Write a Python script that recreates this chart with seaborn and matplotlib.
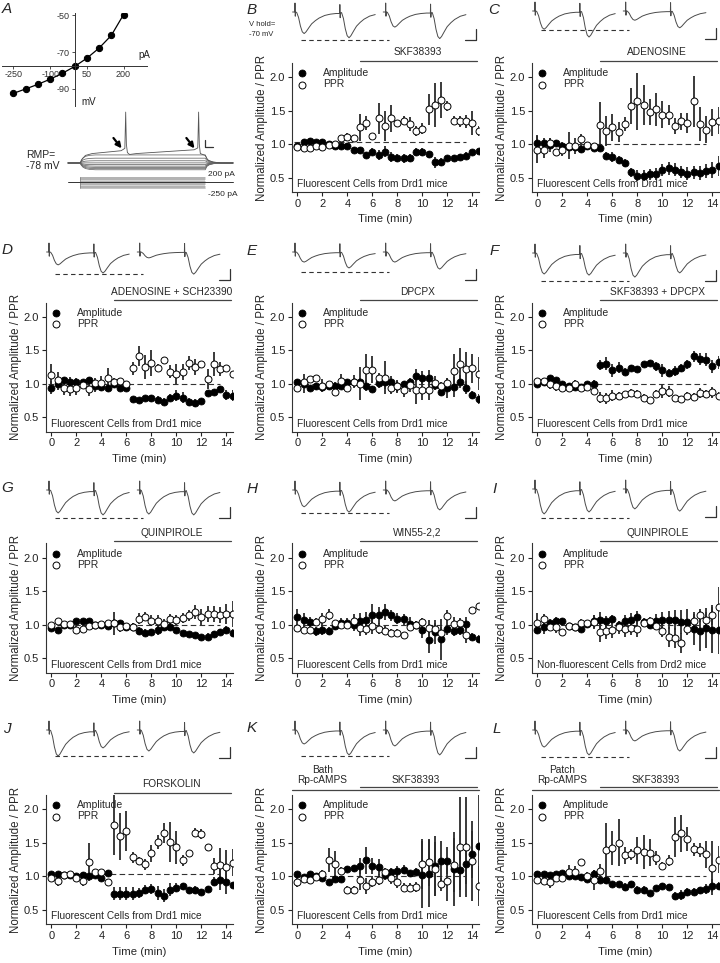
import matplotlib
matplotlib.use("Agg")
import matplotlib.pyplot as plt
import seaborn as sns
from matplotlib.transforms import blended_transform_factory

sns.set_style("ticks")
plt.rcParams['font.family'] = ['Liberation Sans', 'DejaVu Sans']
plt.rcParams['axes.unicode_minus'] = False

# ---------------- data ----------------
time_min = [0, 0.5, 1, 1.5, 2, 2.5, 3, 3.5, 4, 4.5, 5, 5.5, 6, 6.5, 7,
            7.5, 8, 8.5, 9, 9.5, 10, 10.5, 11, 11.5, 12, 12.5, 13, 13.5, 14, 14.5]

# panel A: I-V relation
iv_current = [-250, -200, -150, -100, -50, 0, 50, 100, 150, 200]
iv_voltage = [-92.4, -90.0, -87.5, -84.7, -81.5, -77.8, -73.3, -67.8, -60.9, -49.6]

b_amp = [0.97, 1.04, 1.05, 1.03, 1.04, 1.00, 0.97, 0.97, 0.98, 0.92, 0.91, 0.84, 0.89, 0.84, 0.89,
         0.81, 0.79, 0.79, 0.80, 0.89, 0.88, 0.85, 0.73, 0.74, 0.79, 0.80, 0.81, 0.83, 0.88, 0.90]
b_amp_err = [0.03, 0.04, 0.04, 0.03, 0.04, 0.03, 0.03, 0.03, 0.04, 0.04, 0.05, 0.04, 0.05, 0.07, 0.08,
             0.07, 0.06, 0.07, 0.06, 0.06, 0.06, 0.05, 0.08, 0.06, 0.04, 0.04, 0.04, 0.05, 0.04, 0.03]
b_ppr = [0.96, 0.94, 0.95, 0.98, 0.96, 0.99, 1.01, 1.09, 1.11, 1.09, 1.25, 1.32, 1.12, 1.39, 1.27,
         1.39, 1.31, 1.35, 1.30, 1.20, 1.23, 1.52, 1.58, 1.66, 1.57, 1.35, 1.34, 1.34, 1.32, 1.20]
b_ppr_err = [0.03, 0.03, 0.05, 0.04, 0.06, 0.03, 0.03, 0.05, 0.06, 0.05, 0.20, 0.10, 0.03, 0.23, 0.22,
             0.20, 0.05, 0.07, 0.10, 0.07, 0.08, 0.23, 0.33, 0.27, 0.08, 0.07, 0.08, 0.10, 0.18, 0.07]

c_amp = [1.02, 1.02, 0.99, 1.02, 0.98, 0.96, 0.96, 0.93, 0.97, 0.95, 0.95, 0.83, 0.81, 0.77, 0.72,
         0.58, 0.53, 0.53, 0.55, 0.55, 0.61, 0.64, 0.62, 0.59, 0.56, 0.58, 0.57, 0.60, 0.62, 0.67]
c_amp_err = [0.12, 0.08, 0.10, 0.05, 0.06, 0.05, 0.05, 0.06, 0.06, 0.05, 0.05, 0.05, 0.07, 0.06, 0.06,
             0.07, 0.08, 0.08, 0.08, 0.09, 0.09, 0.10, 0.10, 0.09, 0.10, 0.10, 0.10, 0.10, 0.12, 0.15]
c_ppr = [0.92, 0.92, 1.02, 0.88, 0.92, 0.98, 0.98, 1.08, 0.99, 0.98, 1.28, 1.20, 1.25, 1.18, 1.30,
         1.57, 1.64, 1.58, 1.48, 1.52, 1.44, 1.44, 1.27, 1.34, 1.32, 1.64, 1.30, 1.22, 1.33, 1.35]
c_ppr_err = [0.20, 0.12, 0.07, 0.05, 0.10, 0.20, 0.12, 0.07, 0.05, 0.04, 0.35, 0.22, 0.20, 0.15, 0.10,
             0.27, 0.42, 0.30, 0.20, 0.25, 0.20, 0.15, 0.12, 0.13, 0.15, 0.38, 0.25, 0.20, 0.20, 0.20]

d_amp = [0.94, 0.99, 1.06, 1.03, 1.03, 1.02, 1.06, 0.96, 0.95, 0.93, 0.99, 0.93, 0.94, 0.77, 0.75,
         0.78, 0.78, 0.76, 0.73, 0.79, 0.82, 0.79, 0.72, 0.71, 0.74, 0.86, 0.87, 0.92, 0.83, 0.82]
d_amp_err = [0.10, 0.08, 0.04, 0.07, 0.06, 0.04, 0.04, 0.08, 0.06, 0.06, 0.05, 0.04, 0.05, 0.02, 0.03,
             0.04, 0.05, 0.05, 0.05, 0.05, 0.08, 0.08, 0.06, 0.06, 0.03, 0.03, 0.03, 0.05, 0.07, 0.08]
d_ppr = [1.13, 1.05, 0.93, 0.92, 0.93, 0.98, 0.92, 1.01, 1.01, 1.08, 1.03, 1.04, 0.99, 1.23, 1.42,
         1.25, 1.31, 1.24, 1.35, 1.18, 1.14, 1.17, 1.31, 1.25, 1.29, 1.07, 1.29, 1.22, 1.23, 1.15]
d_ppr_err = [0.17, 0.12, 0.10, 0.10, 0.10, 0.05, 0.10, 0.07, 0.10, 0.15, 0.05, 0.05, 0.05, 0.10, 0.15,
             0.18, 0.20, 0.05, 0.05, 0.10, 0.15, 0.12, 0.10, 0.12, 0.05, 0.15, 0.18, 0.10, 0.03, 0.03]

e_amp = [1.02, 1.00, 0.94, 0.96, 0.95, 0.97, 0.96, 0.97, 1.02, 1.02, 1.03, 0.97, 0.92, 1.01, 1.02,
         1.02, 0.96, 1.00, 1.02, 1.12, 1.09, 1.09, 0.98, 0.88, 0.93, 0.95, 1.03, 0.94, 0.83, 0.77]
e_amp_err = [0.05, 0.14, 0.03, 0.05, 0.05, 0.04, 0.07, 0.05, 0.05, 0.05, 0.05, 0.08, 0.05, 0.08, 0.10,
             0.10, 0.10, 0.04, 0.03, 0.10, 0.10, 0.12, 0.08, 0.06, 0.15, 0.15, 0.10, 0.10, 0.06, 0.07]
e_ppr = [0.94, 1.02, 1.07, 1.09, 0.97, 0.99, 0.88, 1.04, 0.94, 1.03, 1.00, 1.20, 1.21, 1.08, 1.09,
         0.94, 0.96, 0.90, 0.98, 0.90, 0.90, 0.90, 1.01, 0.96, 1.01, 1.19, 1.29, 1.22, 1.23, 1.15]
e_ppr_err = [0.05, 0.05, 0.04, 0.03, 0.10, 0.05, 0.03, 0.10, 0.06, 0.10, 0.25, 0.25, 0.20, 0.08, 0.25,
             0.10, 0.08, 0.10, 0.10, 0.20, 0.15, 0.15, 0.10, 0.06, 0.08, 0.25, 0.25, 0.25, 0.22, 0.25]

f_amp = [1.00, 1.03, 1.08, 1.05, 1.00, 0.97, 0.95, 0.95, 0.99, 1.00, 1.28, 1.30, 1.20, 1.24, 1.18,
         1.24, 1.22, 1.29, 1.31, 1.26, 1.20, 1.16, 1.19, 1.24, 1.29, 1.41, 1.37, 1.36, 1.26, 1.32]
f_amp_err = [0.03, 0.04, 0.04, 0.04, 0.03, 0.04, 0.03, 0.03, 0.03, 0.05, 0.08, 0.10, 0.10, 0.08, 0.05,
             0.04, 0.04, 0.04, 0.05, 0.07, 0.10, 0.06, 0.08, 0.06, 0.07, 0.08, 0.09, 0.10, 0.10, 0.10]
f_ppr = [1.04, 1.04, 0.99, 0.96, 0.94, 0.93, 1.00, 0.94, 0.95, 0.89, 0.79, 0.78, 0.82, 0.82, 0.85,
         0.86, 0.85, 0.79, 0.75, 0.84, 0.89, 0.88, 0.79, 0.77, 0.82, 0.80, 0.86, 0.85, 0.87, 0.82]
f_ppr_err = [0.03, 0.04, 0.07, 0.07, 0.06, 0.06, 0.05, 0.05, 0.04, 0.05, 0.08, 0.08, 0.08, 0.06, 0.04,
             0.06, 0.05, 0.06, 0.04, 0.06, 0.10, 0.08, 0.04, 0.04, 0.05, 0.06, 0.07, 0.06, 0.08, 0.05]

g_amp = [0.95, 0.92, 1.00, 1.00, 1.06, 1.06, 1.06, 1.00, 1.00, 0.98, 1.02, 1.02, 0.97, 0.97, 0.90,
         0.88, 0.89, 0.92, 0.96, 0.96, 0.92, 0.87, 0.86, 0.85, 0.81, 0.82, 0.86, 0.89, 0.92, 0.87]
g_amp_err = [0.03, 0.03, 0.03, 0.04, 0.03, 0.03, 0.03, 0.03, 0.05, 0.05, 0.06, 0.05, 0.06, 0.06, 0.06,
             0.05, 0.05, 0.08, 0.06, 0.06, 0.03, 0.03, 0.03, 0.03, 0.04, 0.05, 0.05, 0.05, 0.06, 0.06]
g_ppr = [1.00, 1.06, 1.01, 1.01, 0.92, 0.94, 0.98, 1.00, 1.01, 1.02, 1.02, 0.96, 0.98, 0.97, 1.09,
         1.12, 1.06, 1.05, 1.01, 1.08, 1.07, 1.10, 1.14, 1.19, 1.11, 1.16, 1.16, 1.15, 1.16, 1.16]
g_ppr_err = [0.03, 0.03, 0.03, 0.03, 0.06, 0.06, 0.04, 0.03, 0.03, 0.04, 0.17, 0.07, 0.05, 0.05, 0.08,
             0.07, 0.08, 0.10, 0.07, 0.08, 0.08, 0.08, 0.08, 0.10, 0.12, 0.12, 0.12, 0.12, 0.15, 0.20]

h_amp = [1.12, 1.07, 1.04, 0.90, 0.92, 0.90, 0.98, 1.03, 1.03, 1.00, 1.06, 1.07, 1.15, 1.14, 1.19,
         1.14, 1.09, 1.08, 1.01, 0.99, 0.92, 0.77, 0.89, 0.78, 0.94, 0.91, 0.92, 1.01, 0.82, 0.79]
h_amp_err = [0.12, 0.10, 0.08, 0.07, 0.07, 0.06, 0.06, 0.07, 0.07, 0.10, 0.12, 0.12, 0.16, 0.13, 0.12,
             0.08, 0.08, 0.08, 0.10, 0.06, 0.12, 0.20, 0.18, 0.30, 0.10, 0.08, 0.08, 0.10, 0.05, 0.06]
h_ppr = [0.95, 0.92, 0.92, 1.04, 1.08, 1.15, 1.02, 0.99, 1.00, 1.06, 0.95, 0.94, 0.98, 0.94, 0.91,
         0.87, 0.88, 0.85, 0.96, 0.99, 1.04, 0.95, 0.93, 0.88, 1.13, 1.01, 1.02, 0.84, 1.22, 1.28]
h_ppr_err = [0.04, 0.05, 0.05, 0.06, 0.10, 0.08, 0.05, 0.05, 0.07, 0.10, 0.12, 0.10, 0.12, 0.08, 0.07,
             0.06, 0.05, 0.04, 0.06, 0.06, 0.06, 0.12, 0.10, 0.08, 0.09, 0.10, 0.08, 0.12, 0.05, 0.04]

i_amp = [0.92, 0.96, 1.03, 1.05, 1.05, 0.98, 0.97, 0.93, 1.01, 1.05, 1.07, 1.05, 1.08, 1.00, 1.06,
         1.07, 1.11, 1.04, 1.00, 1.06, 1.07, 1.07, 1.07, 1.04, 1.04, 0.94, 0.91, 0.95, 0.92, 0.92]
i_amp_err = [0.06, 0.10, 0.05, 0.06, 0.05, 0.04, 0.04, 0.04, 0.06, 0.10, 0.12, 0.08, 0.06, 0.06, 0.08,
             0.10, 0.10, 0.06, 0.06, 0.10, 0.12, 0.14, 0.15, 0.18, 0.20, 0.25, 0.30, 0.30, 0.35, 0.36]
i_ppr = [1.03, 1.08, 0.97, 0.96, 0.89, 0.98, 0.97, 1.03, 1.02, 1.04, 0.89, 0.91, 0.92, 0.96, 0.94,
         0.95, 0.94, 1.03, 1.05, 0.98, 0.91, 0.82, 0.80, 0.72, 0.94, 1.06, 1.14, 1.07, 1.14, 1.27]
i_ppr_err = [0.15, 0.08, 0.06, 0.08, 0.05, 0.03, 0.03, 0.05, 0.05, 0.10, 0.15, 0.12, 0.12, 0.10, 0.12,
             0.10, 0.12, 0.06, 0.06, 0.06, 0.10, 0.15, 0.15, 0.15, 0.06, 0.10, 0.10, 0.12, 0.15, 0.30]

j_amp = [1.03, 1.03, 1.02, 1.02, 1.01, 1.02, 1.01, 1.02, 0.98, 1.05, 0.74, 0.74, 0.74, 0.74, 0.75,
         0.80, 0.81, 0.75, 0.71, 0.80, 0.83, 0.85, 0.79, 0.80, 0.77, 0.81, 0.92, 0.94, 0.92, 0.87]
j_amp_err = [0.03, 0.03, 0.03, 0.03, 0.03, 0.04, 0.04, 0.04, 0.04, 0.05, 0.10, 0.10, 0.10, 0.10, 0.07,
             0.07, 0.07, 0.10, 0.10, 0.10, 0.07, 0.05, 0.05, 0.06, 0.04, 0.04, 0.07, 0.15, 0.18, 0.05]
j_ppr = [0.98, 0.93, 1.02, 1.04, 0.98, 0.93, 1.21, 1.06, 1.06, 0.91, 1.76, 1.60, 1.68, 1.28, 1.23,
         1.18, 1.34, 1.51, 1.64, 1.51, 1.43, 1.24, 1.34, 1.65, 1.63, 1.43, 1.15, 1.17, 1.14, 1.20]
j_ppr_err = [0.04, 0.07, 0.04, 0.03, 0.04, 0.07, 0.28, 0.05, 0.04, 0.05, 0.45, 0.35, 0.30, 0.08, 0.06,
             0.08, 0.12, 0.10, 0.15, 0.30, 0.25, 0.08, 0.03, 0.07, 0.07, 0.05, 0.12, 0.25, 0.25, 0.20]

k_amp = [1.03, 0.99, 1.04, 1.00, 0.97, 0.91, 0.96, 0.96, 1.11, 1.12, 1.15, 1.24, 1.15, 1.14, 1.02,
         1.07, 1.08, 1.10, 1.05, 1.07, 1.02, 1.04, 1.15, 1.23, 1.23, 1.11, 1.09, 1.19, 1.33, 1.45]
k_amp_err = [0.04, 0.03, 0.03, 0.03, 0.04, 0.03, 0.03, 0.04, 0.04, 0.05, 0.12, 0.20, 0.12, 0.12, 0.08,
             0.06, 0.08, 0.07, 0.05, 0.05, 0.50, 0.50, 0.45, 0.30, 0.20, 0.55, 0.30, 0.30, 0.35, 0.80]
k_ppr = [0.92, 0.96, 0.94, 0.99, 1.04, 1.24, 1.18, 1.08, 0.80, 0.79, 0.94, 0.86, 0.92, 0.95, 1.06,
         0.98, 0.92, 0.83, 0.83, 0.84, 1.18, 1.21, 1.11, 0.88, 0.93, 1.17, 1.44, 1.44, 1.23, 0.86]
k_ppr_err = [0.08, 0.06, 0.06, 0.05, 0.06, 0.18, 0.20, 0.06, 0.06, 0.06, 0.15, 0.12, 0.08, 0.08, 0.07,
             0.10, 0.10, 0.07, 0.07, 0.07, 0.37, 0.35, 0.40, 0.10, 0.30, 0.40, 0.75, 0.75, 0.60, 0.30]

l_amp = [1.04, 1.04, 1.02, 1.03, 1.05, 1.00, 1.00, 0.99, 0.96, 1.03, 0.94, 0.94, 0.89, 0.89, 0.84,
         0.88, 0.80, 0.80, 0.75, 0.83, 0.85, 0.84, 0.71, 0.72, 0.76, 0.77, 0.79, 0.81, 0.86, 0.85]
l_amp_err = [0.04, 0.03, 0.03, 0.03, 0.03, 0.04, 0.04, 0.04, 0.05, 0.06, 0.04, 0.05, 0.03, 0.03, 0.06,
             0.05, 0.06, 0.06, 0.03, 0.03, 0.05, 0.04, 0.06, 0.07, 0.06, 0.05, 0.05, 0.07, 0.10, 0.06]
l_ppr = [0.95, 0.93, 0.92, 0.98, 0.98, 1.07, 1.07, 1.21, 1.01, 0.95, 1.08, 1.39, 1.42, 1.50, 1.31,
         1.33, 1.39, 1.36, 1.35, 1.27, 1.16, 1.23, 1.58, 1.64, 1.55, 1.40, 1.39, 1.33, 1.12, 1.25]
l_ppr_err = [0.05, 0.05, 0.10, 0.05, 0.05, 0.10, 0.08, 0.03, 0.05, 0.15, 0.10, 0.40, 0.25, 0.35, 0.12,
             0.08, 0.20, 0.25, 0.20, 0.10, 0.05, 0.08, 0.30, 0.28, 0.18, 0.10, 0.10, 0.20, 0.40, 0.20]

# example EPSC pairs above each panel: peak depths (baseline pair 1st/2nd, drug pair 1st/2nd)
b_traces = [0.77, 0.92, 0.54, 0.95]
c_traces = [0.65, 0.93, 0.33, 0.60]
d_traces = [0.46, 0.75, 0.21, 0.79]
e_traces = [0.36, 0.57, 0.36, 0.61]
f_traces = [0.75, 0.79, 0.86, 0.71]
g_traces = [0.82, 0.89, 0.86, 0.89]
h_traces = [0.60, 0.79, 0.39, 0.71]
i_traces = [0.89, 0.82, 0.71, 0.79]
j_traces = [0.93, 0.64, 0.75, 0.82]
k_traces = [0.50, 0.89, 0.57, 0.89]
l_traces = [0.61, 0.89, 0.39, 0.75]

# EPSC waveform (time in trace units, normalised depth)
artifact_dt = [-1.2, 0.0, 0.1, 0.25, 0.4]
artifact_v = [0.0, 0.0, 0.32, -0.15, 0.0]
epsc_dt = [1.0, 2.0, 3.0, 4.0, 5.0, 6.0, 7.5, 9.0, 11.0, 13.0, 16.0, 19.0, 22.0]
epsc_v = [-0.02, -0.25, -0.65, -0.92, -1.0, -0.92, -0.73, -0.55, -0.40, -0.28, -0.16, -0.10, -0.07]

# panel A current-clamp sweep shape
sweep_t = [18, 90, 95, 105, 120, 145, 180, 825, 835, 850, 875, 910, 988]
sweep_frac = [0, 0, 0.3, 0.6, 0.82, 0.95, 1, 1, 0.5, 0.25, 0.1, 0.03, 0]
spike_t = [18, 90, 100, 120, 160, 330, 352, 357, 361, 367, 380, 420, 760, 781, 786, 790, 796, 825, 840, 870, 920, 988]
spike_v = [-78, -78, -70, -62, -58, -52, -47, 30, -38, -56, -60, -58, -50, -46, 30, -38, -58, -62, -72, -76, -78, -78]

rmp = -77.3
drugs = ["SKF38393", "ADENOSINE", "ADENOSINE + SCH23390", "DPCPX", "SKF38393 + DPCPX",
         "QUINPIROLE", "WIN55-2,2", "QUINPIROLE", "FORSKOLIN", "SKF38393", "SKF38393"]
letters = ["B", "C", "D", "E", "F", "G", "H", "I", "J", "K", "L"]
cells = ["Fluorescent Cells from Drd1 mice"] * 7 + ["Non-fluorescent Cells from Drd2 mice"] + \
        ["Fluorescent Cells from Drd1 mice"] * 3

# ---------------- layout ----------------
W, H = 720, 963
fig = plt.figure(figsize=(7.2, 9.63), dpi=100)


def add_ax(left, top, w, h):
    return fig.add_axes([left / W, 1 - (top + h) / H, w / W, h / H])


col_left = [46, 292, 532]
row_top = [63, 302.5, 543.5, 795]
ax_w, ax_h = 187, 129
trace_base = [12, 11, 252, 252, 253, 490, 490, 489, 730, 730, 730]
trace_dash = [0.99, 0.69, 0.79, 0.71, 1.0, 1.0, 0.82, 1.04, 0.93, 0.93, 0.96]
ref_line = [1.04, 1.0, 1.0, 1.0, 1.0, 1.0, 1.0, 1.0, 1.04, 1.0, 1.0]
grid_pos = [(1, 0), (2, 0), (0, 1), (1, 1), (2, 1), (0, 2), (1, 2), (2, 2), (0, 3), (1, 3), (2, 3)]
letter_xy = [(252, 10), (494, 10), (7, 250), (252, 251), (494, 251), (7, 488), (252, 489),
             (495, 489), (7, 729), (252, 728), (497, 729)]

data = {
    "B": (b_amp, b_amp_err, b_ppr, b_ppr_err, b_traces),
    "C": (c_amp, c_amp_err, c_ppr, c_ppr_err, c_traces),
    "D": (d_amp, d_amp_err, d_ppr, d_ppr_err, d_traces),
    "E": (e_amp, e_amp_err, e_ppr, e_ppr_err, e_traces),
    "F": (f_amp, f_amp_err, f_ppr, f_ppr_err, f_traces),
    "G": (g_amp, g_amp_err, g_ppr, g_ppr_err, g_traces),
    "H": (h_amp, h_amp_err, h_ppr, h_ppr_err, h_traces),
    "I": (i_amp, i_amp_err, i_ppr, i_ppr_err, i_traces),
    "J": (j_amp, j_amp_err, j_ppr, j_ppr_err, j_traces),
    "K": (k_amp, k_amp_err, k_ppr, k_ppr_err, k_traces),
    "L": (l_amp, l_amp_err, l_ppr, l_ppr_err, l_traces),
}


def pair_xy(start, a1, a2, isi=24):
    xs, ys = [], []
    for k, amp in enumerate([a1, a2]):
        s = start + k * isi
        resid = ys[-1] if k == 1 else 0.0
        for dt, v in zip(artifact_dt, artifact_v):
            xs.append(s + dt)
            ys.append(v + resid)
        for dt, v in zip(epsc_dt, epsc_v):
            if k == 1 and dt > 19:
                continue
            xs.append(s + dt)
            ys.append(v * amp)
    return xs, ys


trace_col = "#4a4a4a"

for idx, let in enumerate(letters):
    amp, amp_err, ppr, ppr_err, tr = data[let]
    c, r = grid_pos[idx]
    ax = add_ax(col_left[c], row_top[r], ax_w, ax_h)

    ax.errorbar(time_min, amp, yerr=amp_err, fmt='none', ecolor='#2b2b2b', elinewidth=1.3, capsize=0, zorder=2)
    ax.errorbar(time_min, ppr, yerr=ppr_err, fmt='none', ecolor='#2b2b2b', elinewidth=1.3, capsize=0, zorder=2)
    sns.scatterplot(x=time_min, y=amp, ax=ax, color='black', edgecolor='black', s=25,
                    linewidth=0.6, label='Amplitude', zorder=4)
    sns.scatterplot(x=time_min, y=ppr, ax=ax, color='white', edgecolor='black', s=25,
                    linewidth=0.7, label='PPR', zorder=5)
    ax.plot([-0.3, 13.5], [ref_line[idx]] * 2, color='#333333', lw=0.8, dashes=(5, 3), zorder=1)

    ax.set_xlim(-0.43, 14.54)
    ax.set_ylim(0.286, 2.214)
    ax.set_xticks([0, 2, 4, 6, 8, 10, 12, 14])
    ax.set_yticks([0.5, 1.0, 1.5, 2.0])
    ax.set_yticklabels(["0.5", "1.0", "1.5", "2.0"])
    ax.tick_params(labelsize=8, length=3, width=0.8, pad=2, colors='#222222')
    for sp in ['top', 'right']:
        ax.spines[sp].set_visible(False)
    for sp in ['left', 'bottom']:
        ax.spines[sp].set_linewidth(0.8)
        ax.spines[sp].set_color('#333333')
    ax.set_xlabel("Time (min)", fontsize=8.2, labelpad=4)
    ax.set_ylabel("Normalized Amplitude / PPR", fontsize=8.3, labelpad=1)
    ax.legend(loc='upper left', frameon=False, fontsize=7.5, handletextpad=1.5, labelspacing=0.1,
              borderaxespad=0.2, borderpad=0.3, handlelength=1.0)
    ax.text(0.0, 0.4, cells[idx], fontsize=7.3, ha='left', va='center')

    trans = blended_transform_factory(ax.transData, ax.transAxes)
    if let in ("K", "L"):
        ax.plot([-0.43, 14.5], [1.039, 1.039], transform=trans, color='#444444', lw=0.9, clip_on=False)
        ax.plot([5.0, 14.4], [1.062, 1.062], transform=trans, color='#444444', lw=0.9, clip_on=False)
        ax.text(9.5, 1.115, drugs[idx], transform=trans, ha='center', va='center', fontsize=7.3)
        first = "Bath" if let == "K" else "Patch"
        ax.text(2.0, 1.155, first + "\nRp-cAMPS", transform=trans, ha='center', va='center',
                fontsize=7.3, linespacing=1.05)
    else:
        ax.plot([5.0, 14.35], [1.018, 1.018], transform=trans, color='#444444', lw=0.9, clip_on=False)
        ax.text(9.6, 1.083, drugs[idx], transform=trans, ha='center', va='center', fontsize=7.3)

    # example traces
    tax = add_ax(col_left[c], trace_base[idx] - 11.2, ax_w, 47.6)
    tax.set_xlim(0, 100)
    tax.set_ylim(-1.3, 0.4)
    tax.axis('off')
    for start, (a1, a2) in zip([1.5, 50.0], [(tr[0], tr[1]), (tr[2], tr[3])]):
        xs, ys = pair_xy(start, a1, a2)
        tax.plot(xs, ys, color=trace_col, lw=0.7)
    tax.plot([5, 52], [-trace_dash[idx]] * 2, color='#333333', lw=0.8, dashes=(4, 3))
    tax.plot([92.5, 98.5, 98.5], [-1.0, -1.0, -0.62], color='#333333', lw=0.9)

    fig.text(letter_xy[idx][0] / W, 1 - letter_xy[idx][1] / H, let, fontsize=11, style='italic',
             ha='center', va='center')

fig.text(249 / W, 1 - 24.5 / H, "V hold=", fontsize=5.5, ha='left', va='center')
fig.text(249 / W, 1 - 34 / H, "-70 mV", fontsize=5.5, ha='left', va='center')

# ---------------- panel A ----------------
ax_iv = add_ax(2, 13, 145, 93)
sns.lineplot(x=iv_current, y=iv_voltage, ax=ax_iv, color='black', lw=0.9, marker='o',
             markersize=4.5, markeredgecolor='black')
ax_iv.set_xlim(-297, 296)
ax_iv.set_ylim(-99.3, -48.7)
ax_iv.spines['left'].set_position(('data', 0))
ax_iv.spines['bottom'].set_position(('data', rmp))
for sp in ['top', 'right']:
    ax_iv.spines[sp].set_visible(False)
for sp in ['left', 'bottom']:
    ax_iv.spines[sp].set_linewidth(0.7)
    ax_iv.spines[sp].set_color('#333333')
ax_iv.set_xticks([-250, -100, 50, 200])
ax_iv.set_yticks([-50, -70, -90])
ax_iv.tick_params(labelsize=6.5, length=2, width=0.6, pad=1.5, colors='#333333')
ax_iv.set_xlabel("")
ax_iv.set_ylabel("")
ax_iv.text(262, -74.5, "pA", fontsize=7, ha='left', va='bottom', color='#222222')
ax_iv.text(28, -97, "mV", fontsize=7, ha='left', va='center', color='#222222')

ax_v = add_ax(65, 105, 170, 70)
ax_v.set_xlim(0, 1000)
ax_v.set_ylim(-103.5, 45)
ax_v.axis('off')
for v_ss in iv_voltage[:-1]:
    ax_v.plot(sweep_t, [-78 + f * (v_ss + 78) for f in sweep_frac], color='#666666', lw=0.55)
ax_v.plot(spike_t, spike_v, color='#555555', lw=0.6)
ax_v.plot([824, 824, 871], [-29, -44, -44], color='#333333', lw=0.9)
for x0, x1 in [(285, 333), (714, 762)]:
    ax_v.annotate("", xy=(x1, -47), xytext=(x0, -25),
                  arrowprops=dict(arrowstyle='-|>', lw=1.6, color='black', mutation_scale=8,
                                  shrinkA=0, shrinkB=0))
fig.text(26 / W, 1 - 155 / H, "RMP=", fontsize=7.5, ha='left', va='center')
fig.text(26 / W, 1 - 166 / H, "-78 mV", fontsize=7.5, ha='left', va='center')

ax_i = add_ax(65, 172, 170, 24)
ax_i.set_xlim(0, 1000)
ax_i.set_ylim(-560, 400)
ax_i.axis('off')
ax_i.fill_between([90, 825], -250, 200, color='#d4d4d4', lw=0)
for cur in iv_current:
    ax_i.plot([90, 825], [cur, cur], color='#9a9a9a', lw=0.4)
ax_i.plot([90, 90], [-250, 200], color='#777777', lw=0.5)
ax_i.plot([18, 988], [0, 0], color='#333333', lw=0.7)
ax_i.text(840, 320, "200 pA", fontsize=6, ha='left', va='center')
ax_i.text(840, -480, "-250 pA", fontsize=6, ha='left', va='center')

fig.text(7 / W, 1 - 9 / H, "A", fontsize=11, style='italic', ha='center', va='center')

fig.savefig("out.png", dpi=100)
